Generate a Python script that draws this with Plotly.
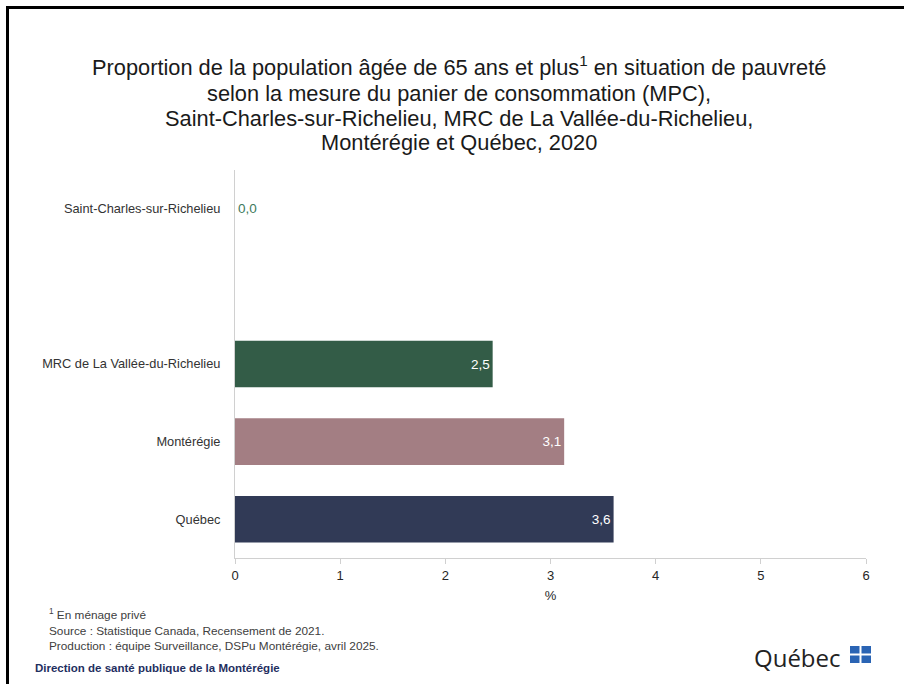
import plotly.graph_objects as go

categories = ["Saint-Charles-sur-Richelieu", " ", "MRC de La Vallée-du-Richelieu", "Montérégie", "Québec"]
values = [0.0, None, 2.45, 3.13, 3.6]
labels = ["0,0", "", "2,5", "3,1", "3,6"]
colors = ["#335C47", "#FFFFFF", "#335C47", "#A37E83", "#313A56"]
text_positions = ["outside", "none", "inside", "inside", "inside"]
text_colors = ["#3E7A5C", "#FFFFFF", "#FFFFFF", "#FFFFFF", "#FFFFFF"]
x_ticks = [0, 1, 2, 3, 4, 5, 6]
title_lines = [
    "Proportion de la population âgée de 65 ans et plus<sup>1</sup> en situation de pauvreté",
    "selon la mesure du panier de consommation (MPC),",
    "Saint-Charles-sur-Richelieu, MRC de La Vallée-du-Richelieu,",
    "Montérégie et Québec, 2020",
]
notes = [
    "<sup>1</sup> En ménage privé",
    "Source : Statistique Canada, Recensement de 2021.",
    "Production : équipe Surveillance, DSPu Montérégie, avril 2025.",
]
credit = "Direction de santé publique de la Montérégie"

FONT = "Liberation Sans, Arial, sans-serif"
L, R, T, B = 235, 38, 170, 126
W, H = 904, 684
PW, PH = W - L - R, H - T - B


def px_x(px):
    return (px - L) / PW


def px_y(py):
    return (H - B - py) / PH


fig = go.Figure()
fig.add_trace(go.Bar(
    y=categories, x=values, orientation="h",
    marker=dict(color=colors, line=dict(width=0)),
    width=0.6,
    text=labels, textposition=text_positions,
    insidetextanchor="end",
    textfont=dict(color=text_colors, size=13.5, family=FONT),
    cliponaxis=False,
    hoverinfo="skip",
))

fig.update_layout(
    width=W, height=H,
    paper_bgcolor="white", plot_bgcolor="white",
    margin=dict(l=L, r=R, t=T, b=B, autoexpand=False),
    showlegend=False,
    font=dict(family=FONT, color="#404040"),
    xaxis=dict(
        range=[0, 6], tickvals=x_ticks, ticktext=[str(v) for v in x_ticks],
        showgrid=False, zeroline=False,
        showline=True, linecolor="#D0D0D0", linewidth=1,
        ticks="outside", ticklen=5, tickcolor="#D0D0D0",
        tickfont=dict(size=13, color="#262626", family=FONT),
        title=dict(text="%", font=dict(size=13, color="#262626", family=FONT), standoff=9),
    ),
    yaxis=dict(
        categoryorder="array", categoryarray=categories,
        range=[4.5, -0.5],
        showgrid=False, zeroline=False,
        showline=True, linecolor="#D0D0D0", linewidth=1,
        ticks="", ticklabelstandoff=11,
        tickfont=dict(size=12.8, color="#333333", family=FONT),
    ),
)

# title lines
for txt, py in zip(title_lines, [66, 93, 118, 142]):
    fig.add_annotation(text=txt, x=px_x(459), y=px_y(py), xref="paper", yref="paper",
                       xanchor="center", yanchor="middle", showarrow=False,
                       font=dict(size=21.8, color="#1a1a1a", family=FONT))

# frame
fig.add_shape(type="rect", xref="paper", yref="paper",
              x0=px_x(7.5), x1=px_x(960), y0=px_y(760), y1=px_y(7.5),
              line=dict(color="black", width=3), fillcolor="rgba(0,0,0,0)", layer="below")

# footnotes
for txt, py in zip(notes, [614, 631, 646]):
    fig.add_annotation(text=txt, x=px_x(47), y=px_y(py), xref="paper", yref="paper",
                       xanchor="left", yanchor="middle", showarrow=False,
                       font=dict(size=11.8, color="#404040", family=FONT))
fig.add_annotation(text="<b>" + credit + "</b>", x=px_x(33), y=px_y(668),
                   xref="paper", yref="paper", xanchor="left", yanchor="middle", showarrow=False,
                   font=dict(size=11.5, color="#1F2F5F", family=FONT))

# Québec logo
fig.add_annotation(text="Québec", x=px_x(843), y=px_y(657), xref="paper", yref="paper",
                   xanchor="right", yanchor="middle", showarrow=False,
                   font=dict(size=24, color="#222222", family="Open Sans, DejaVu Sans, sans-serif"))
for (x0, x1) in [(850, 859.5), (861.5, 871)]:
    for (y0, y1) in [(646, 653.5), (655.5, 663)]:
        fig.add_shape(type="rect", xref="paper", yref="paper",
                      x0=px_x(x0), x1=px_x(x1), y0=px_y(y1), y1=px_y(y0),
                      line=dict(width=0), fillcolor="#2A64B4")

fig.write_html("out.html", config={"displayModeBar": False},
               post_script="document.body.style.margin='0px';")
